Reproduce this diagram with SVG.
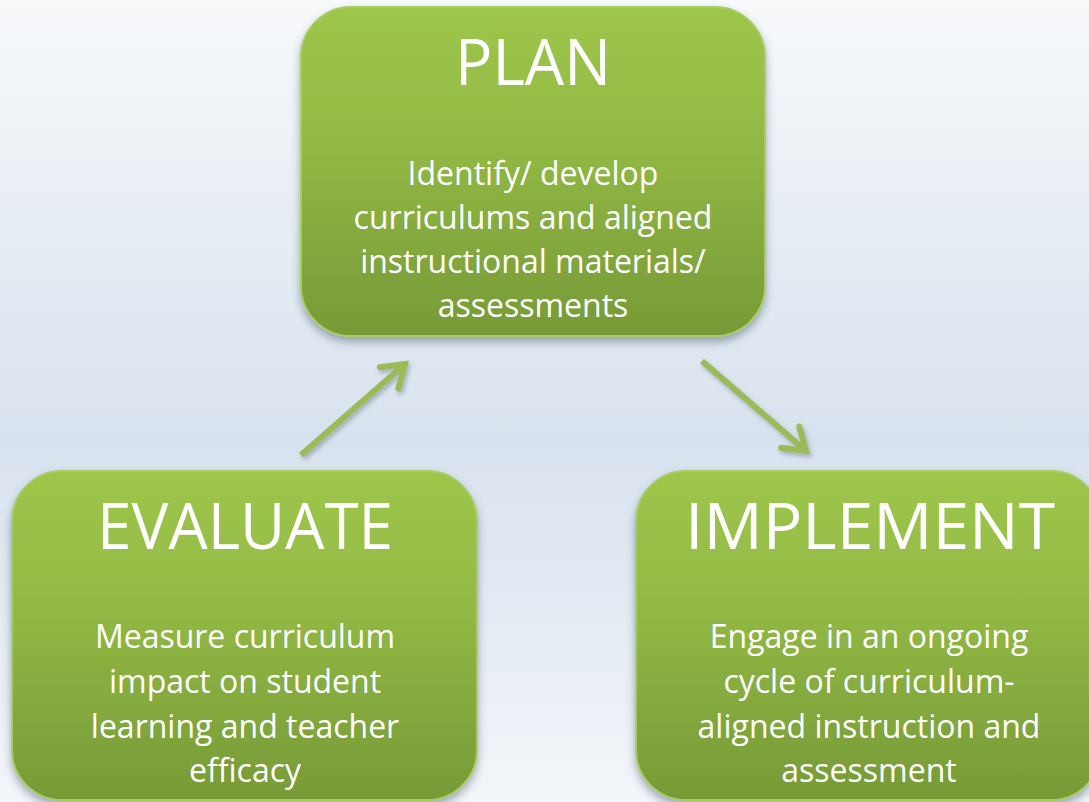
<svg xmlns="http://www.w3.org/2000/svg" width="1089" height="802" viewBox="0 0 1089 802">
  <defs>
    <linearGradient id="bg" x1="0" y1="0" x2="0" y2="1">
      <stop offset="0" stop-color="#f7f9fb"/>
      <stop offset="0.55" stop-color="#d8e2ee"/>
      <stop offset="1" stop-color="#f3f6fa"/>
    </linearGradient>
    <linearGradient id="box" x1="0" y1="0" x2="0" y2="1">
      <stop offset="0" stop-color="#9dc64b"/>
      <stop offset="0.35" stop-color="#95bc46"/>
      <stop offset="1" stop-color="#779a37"/>
    </linearGradient>
    <filter id="shadow" x="-10%" y="-10%" width="120%" height="125%">
      <feDropShadow dx="0" dy="5" stdDeviation="4" flood-color="#3a4a5a" flood-opacity="0.45"/>
    </filter>
    <filter id="ashadow" x="-20%" y="-20%" width="140%" height="140%">
      <feDropShadow dx="2" dy="3" stdDeviation="2" flood-color="#3a4a5a" flood-opacity="0.35"/>
    </filter>
    <marker id="head" markerUnits="userSpaceOnUse" markerWidth="40" markerHeight="40" viewBox="-30 -20 40 40" refX="0" refY="0" orient="auto">
      <path d="M-21,-14 L0,0 L-21,14" fill="none" stroke="#9bbb59" stroke-width="6" stroke-linecap="round" stroke-linejoin="miter"/>
    </marker>
  </defs>
  <style>
    .box { fill: url(#box); stroke: #a9cc64; stroke-width: 2; filter: url(#shadow); }
    .title { font-family: "Open Sans", "Liberation Sans", sans-serif; fill: #ffffff; text-anchor: middle; font-size: 64px; }
    .body { font-family: "Open Sans", "Liberation Sans", sans-serif; fill: #ffffff; text-anchor: middle; font-size: 32px; }
    .conn { stroke: #9bbb59; stroke-width: 6; fill: none; marker-end: url(#head); filter: url(#ashadow); }
  </style>
  <rect x="0" y="0" width="1089" height="802" fill="url(#bg)"/>

  <g id="connectors">
    <line class="conn" x1="301" y1="455" x2="405" y2="364"/>
    <line class="conn" x1="702" y1="361" x2="806" y2="451"/>
    <line class="conn" x1="620" y1="663" x2="497" y2="663"/>
  </g>

  <g id="plan">
    <rect class="box" x="301" y="7" width="464" height="329" rx="50" ry="50"/>
    <text class="title" x="533" y="85" textLength="156" lengthAdjust="spacingAndGlyphs">PLAN</text>
    <text class="body" x="533" y="185">Identify/ develop</text>
    <text class="body" x="533" y="229">curriculums and aligned</text>
    <text class="body" x="533" y="273">instructional materials/</text>
    <text class="body" x="533" y="317">assessments</text>
  </g>

  <g id="evaluate">
    <rect class="box" x="12" y="471" width="465" height="329" rx="50" ry="50"/>
    <text class="title" x="245" y="549" textLength="296" lengthAdjust="spacingAndGlyphs">EVALUATE</text>
    <text class="body" x="245" y="648">Measure curriculum</text>
    <text class="body" x="245" y="693">impact on student</text>
    <text class="body" x="245" y="738">learning and teacher</text>
    <text class="body" x="245" y="782">efficacy</text>
  </g>

  <g id="implement">
    <rect class="box" x="636" y="471" width="465" height="329" rx="50" ry="50"/>
    <text class="title" x="870" y="549" textLength="370" lengthAdjust="spacingAndGlyphs">IMPLEMENT</text>
    <text class="body" x="869" y="648">Engage in an ongoing</text>
    <text class="body" x="869" y="693">cycle of curriculum-</text>
    <text class="body" x="869" y="738">aligned instruction and</text>
    <text class="body" x="869" y="782">assessment</text>
  </g>
</svg>
